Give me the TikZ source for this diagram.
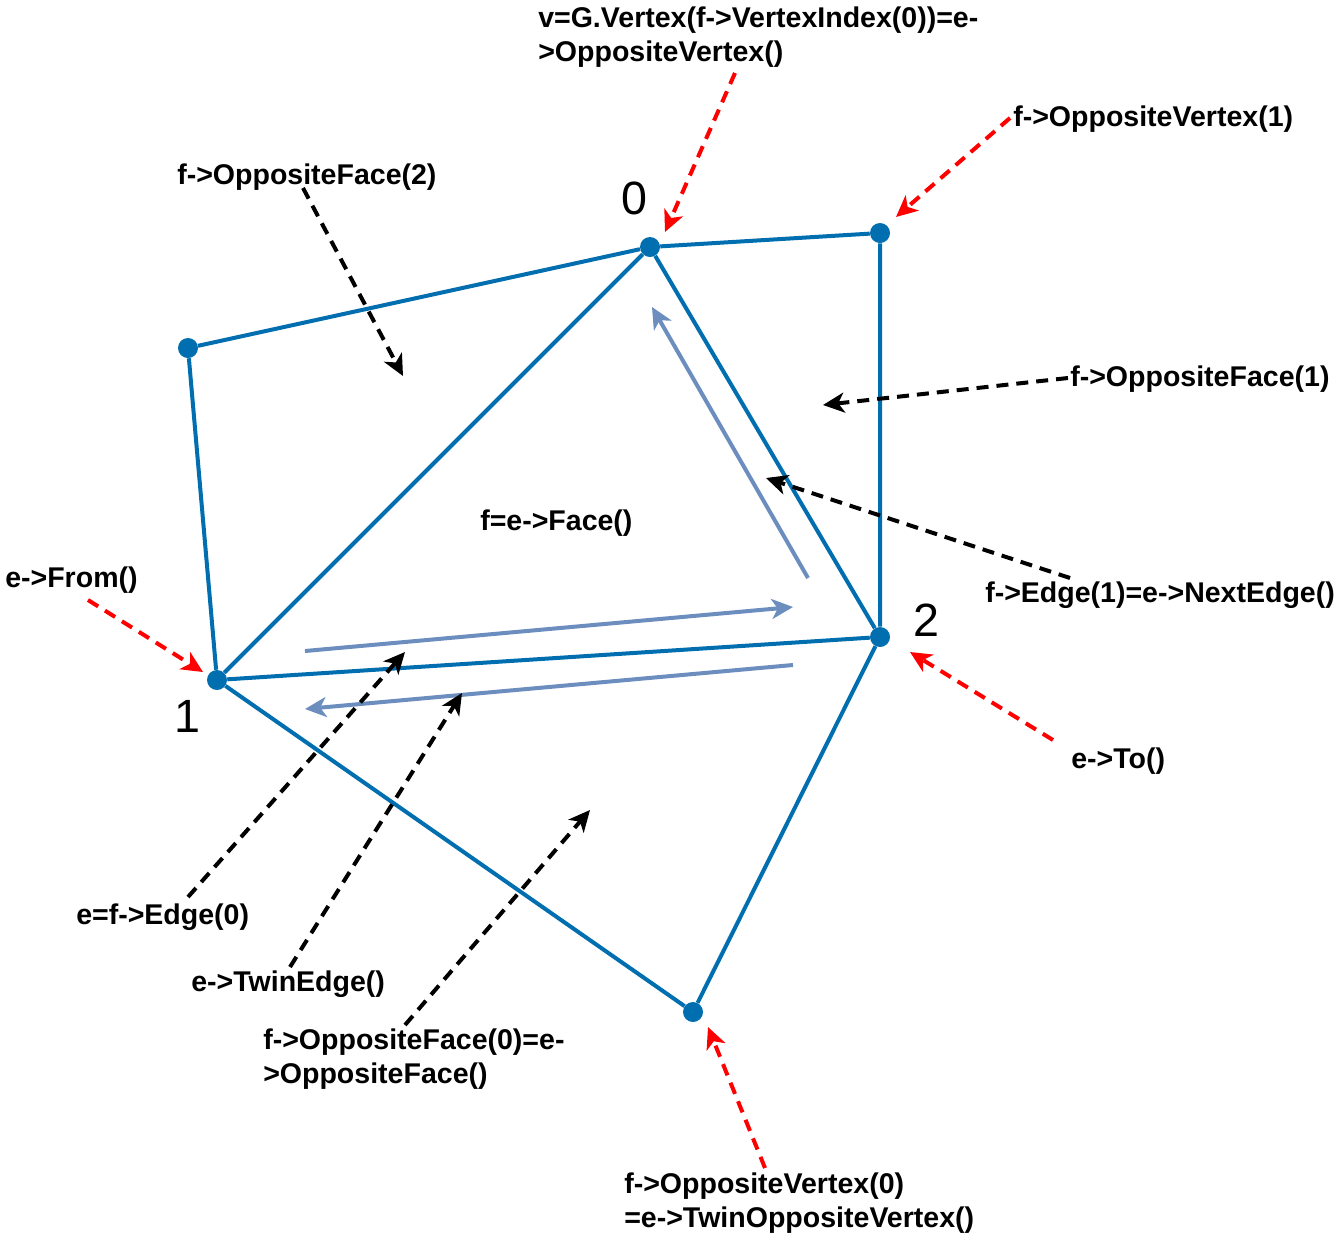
\documentclass[tikz,border=0pt]{standalone}
\usepackage{fontspec}
\setmainfont{Liberation Sans}
\usetikzlibrary{arrows.meta}
\definecolor{edgeblue}{HTML}{006EAF}
\definecolor{halfblue}{HTML}{6C8EBF}
\tikzset{
	dot/.style={circle, fill=edgeblue, inner sep=0pt, minimum size=15pt},
	edge/.style={draw=edgeblue, line width=3pt},
	halfedge/.style={draw=halfblue, line width=3pt, -{Stealth[length=16pt, width=15pt, inset=4.5pt]}},
	refblack/.style={draw=black, line width=3pt, dash pattern=on 9pt off 6pt, -{Stealth[length=16pt, width=15pt, inset=4.5pt]}},
	refred/.style={draw=red, line width=3pt, dash pattern=on 9pt off 6pt, -{Stealth[length=16pt, width=15pt, inset=4.5pt]}},
	lbl/.style={inner sep=0pt, anchor=west, align=left, font=\fontsize{21.4}{25.5}\selectfont\bfseries},
	idx/.style={inner sep=0pt, font=\fontsize{35}{40}\selectfont}
}

\begin{document}
\begin{tikzpicture}[x=0.75pt, y=-0.75pt]
			%%%%% START %%%%%
			\useasboundingbox (0,0) rectangle (1339,1236);
			
			% vertices
			\node[dot] (v0) at (650, 247) {};
			\node[dot] (v1) at (217, 680) {};
			\node[dot] (v2) at (880, 637) {};
			\node[dot] (oa) at (880, 233) {};
			\node[dot] (ob) at (188, 348) {};
			\node[dot] (oc) at (693, 1012) {};
			
			\node[idx] (n0) at (634, 198) {0};
			\node[idx] (n1) at (187, 716) {1};
			\node[idx] (n2) at (926, 620) {2};
			
			% edges
			\draw[edge] (ob) -- (v0) -- (oa) -- (v2);
			\draw[edge] (ob) -- (v1);
			\draw[edge] (v1) -- (oc) -- (v2);
			\draw[edge] (v0) -- (v1) -- (v2) -- (v0);
			
			% half edges
			\coordinate (h1s) at (808, 578);
			\coordinate (h1e) at (652, 307);
			\coordinate (h0s) at (305, 651);
			\coordinate (h0e) at (793, 607);
			\coordinate (t0s) at (793, 665);
			\coordinate (t0e) at (305, 709);
			\draw[halfedge] (h1s) -- (h1e);
			\draw[halfedge] (h0s) -- (h0e);
			\draw[halfedge] (t0s) -- (t0e);
			
			\node[lbl] (face) at (480, 523) {f=e->Face()};
			
			% black references
			\node[lbl] (of2) at (177, 177) {f->OppositeFace(2)};
			\node[lbl] (of1) at (1070, 379) {f->OppositeFace(1)};
			\node[lbl] (ne) at (985, 595) {f->Edge(1)=e->NextEdge()};
			\node[lbl] (ed0) at (76, 917) {e=f->Edge(0)};
			\node[lbl] (tw) at (191, 984) {e->TwinEdge()};
			\node[lbl] (of0) at (263, 1059) {f->OppositeFace(0)=e-\\>OppositeFace()};
			
			\coordinate (of2s) at (303, 188);
			\coordinate (of2e) at (403, 376);
			\coordinate (of1s) at (1068, 378);
			\coordinate (of1e) at (823, 405);
			\coordinate (nes) at (1070, 578);
			\coordinate (nee) at (766, 478);
			\coordinate (ed0s) at (188, 897);
			\coordinate (ed0e) at (405, 652);
			\coordinate (tws) at (290, 967);
			\coordinate (twe) at (462, 693);
			\coordinate (of0s) at (405, 1025);
			\coordinate (of0e) at (590, 810);
			\draw[refblack] (of2s) -- (of2e);
			\draw[refblack] (of1s) -- (of1e);
			\draw[refblack] (nes) -- (nee);
			\draw[refblack] (ed0s) -- (ed0e);
			\draw[refblack] (tws) -- (twe);
			\draw[refblack] (of0s) -- (of0e);
			
			% red references
			\node[lbl] (vtx) at (538, 37) {v=G.Vertex(f->VertexIndex(0))=e-\\>OppositeVertex()};
			\node[lbl] (ov1) at (1013, 119) {f->OppositeVertex(1)};
			\node[lbl] (from) at (5, 580) {e->From()};
			\node[lbl] (to) at (1071, 761) {e->To()};
			\node[lbl] (ov0) at (624, 1203) {f->OppositeVertex(0)\\=e->TwinOppositeVertex()};
			
			\coordinate (vtxs) at (735, 73);
			\coordinate (vtxe) at (665, 232);
			\coordinate (ov1s) at (1010, 118);
			\coordinate (ov1e) at (896, 217);
			\coordinate (froms) at (88, 600);
			\coordinate (frome) at (203, 672);
			\coordinate (tos) at (1053, 740);
			\coordinate (toe) at (910, 652);
			\coordinate (ov0s) at (765, 1168);
			\coordinate (ov0e) at (708, 1027);
			\draw[refred] (vtxs) -- (vtxe);
			\draw[refred] (ov1s) -- (ov1e);
			\draw[refred] (froms) -- (frome);
			\draw[refred] (tos) -- (toe);
			\draw[refred] (ov0s) -- (ov0e);
			
			%%%%% END %%%%%
\end{tikzpicture}
\end{document}
